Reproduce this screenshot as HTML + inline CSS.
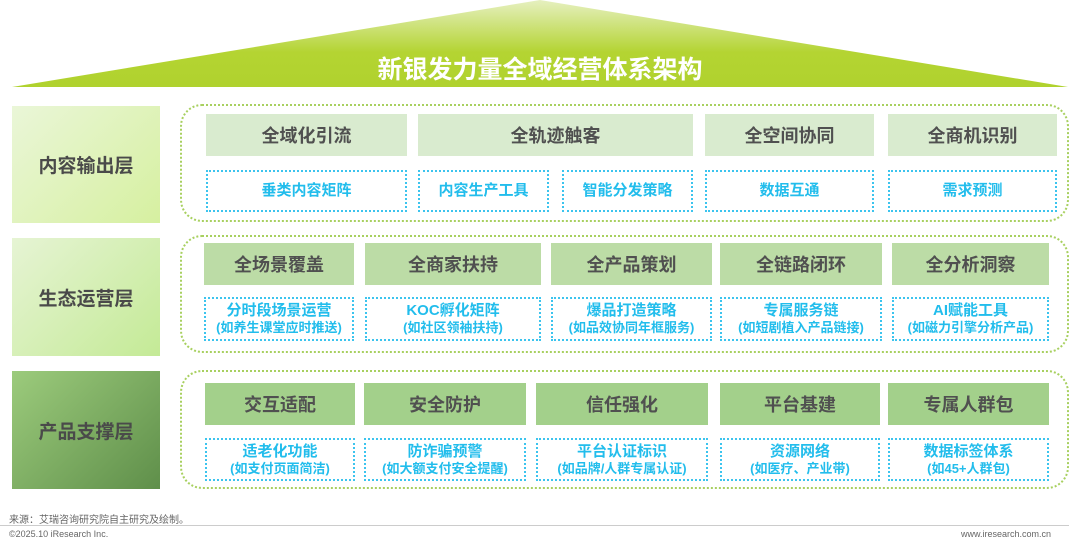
<!DOCTYPE html>
<html><head><meta charset="utf-8"><style>
*{margin:0;padding:0;box-sizing:border-box}
body{width:1080px;height:542px;background:#fff;position:relative;overflow:hidden;font-family:"Liberation Sans","Noto Sans CJK SC",sans-serif}
.a{position:absolute}
.lab{position:absolute;left:12px;width:148px;display:flex;align-items:center;justify-content:center;font-size:19px;font-weight:bold;color:#4a4a4a}
.cont{position:absolute;left:180px;width:889px;border:2px dotted #a8d060;border-radius:22px}
.h{position:absolute;display:flex;align-items:center;justify-content:center;font-size:18px;font-weight:bold;color:#505050}
.r1{background:#d9ebcf}.r2{background:#bcdca6}.r3{background:#a3d08b}
.s{position:absolute;border:2px dotted #3cc4ee;display:flex;flex-direction:column;align-items:center;justify-content:center;color:#22bdec;font-weight:bold;font-size:15px;line-height:18px;background:#fff}
.s small{font-size:13px;line-height:16px}
</style></head><body>
<svg class="a" style="left:0;top:0" width="1080" height="90"><defs><linearGradient id="g" x1="0" y1="0" x2="0" y2="1"><stop offset="0" stop-color="#e6f0c0"/><stop offset="0.6" stop-color="#b4d432"/><stop offset="1" stop-color="#b0d22e"/></linearGradient></defs><polygon points="12,87 540,0 1068,87" fill="url(#g)"/></svg>
<div class="a" style="left:0;width:1080px;top:50px;text-align:center;font-size:25px;font-weight:bold;color:#fff">新银发力量全域经营体系架构</div>

<div class="lab" style="top:106px;height:117px;background:linear-gradient(135deg,#eaf6d8,#d6f0a0)">内容输出层</div>
<div class="lab" style="top:238px;height:118px;background:linear-gradient(135deg,#e6f4d4,#c4ea96)">生态运营层</div>
<div class="lab" style="top:371px;height:118px;background:linear-gradient(135deg,#9ccb7c,#5f8f4a)">产品支撑层</div>

<div class="cont" style="top:104px;height:118px"></div>
<div class="cont" style="top:235px;height:118px"></div>
<div class="cont" style="top:370px;height:119px"></div>

<div class="h r1" style="left:206px;top:114px;width:201px;height:42px">全域化引流</div>
<div class="h r1" style="left:418px;top:114px;width:275px;height:42px">全轨迹触客</div>
<div class="h r1" style="left:705px;top:114px;width:169px;height:42px">全空间协同</div>
<div class="h r1" style="left:888px;top:114px;width:169px;height:42px">全商机识别</div>
<div class="s" style="left:206px;top:170px;width:201px;height:42px">垂类内容矩阵</div>
<div class="s" style="left:418px;top:170px;width:131px;height:42px">内容生产工具</div>
<div class="s" style="left:562px;top:170px;width:131px;height:42px">智能分发策略</div>
<div class="s" style="left:705px;top:170px;width:169px;height:42px">数据互通</div>
<div class="s" style="left:888px;top:170px;width:169px;height:42px">需求预测</div>

<div class="h r2" style="left:204px;top:243px;width:150px;height:42px">全场景覆盖</div>
<div class="h r2" style="left:365px;top:243px;width:176px;height:42px">全商家扶持</div>
<div class="h r2" style="left:551px;top:243px;width:161px;height:42px">全产品策划</div>
<div class="h r2" style="left:720px;top:243px;width:162px;height:42px">全链路闭环</div>
<div class="h r2" style="left:892px;top:243px;width:157px;height:42px">全分析洞察</div>
<div class="s" style="left:204px;top:297px;width:150px;height:44px">分时段场景运营<small>(如养生课堂应时推送)</small></div>
<div class="s" style="left:365px;top:297px;width:176px;height:44px">KOC孵化矩阵<small>(如社区领袖扶持)</small></div>
<div class="s" style="left:551px;top:297px;width:161px;height:44px">爆品打造策略<small>(如品效协同年框服务)</small></div>
<div class="s" style="left:720px;top:297px;width:162px;height:44px">专属服务链<small>(如短剧植入产品链接)</small></div>
<div class="s" style="left:892px;top:297px;width:157px;height:44px">AI赋能工具<small>(如磁力引擎分析产品)</small></div>

<div class="h r3" style="left:205px;top:383px;width:150px;height:42px">交互适配</div>
<div class="h r3" style="left:364px;top:383px;width:162px;height:42px">安全防护</div>
<div class="h r3" style="left:536px;top:383px;width:172px;height:42px">信任强化</div>
<div class="h r3" style="left:720px;top:383px;width:160px;height:42px">平台基建</div>
<div class="h r3" style="left:888px;top:383px;width:161px;height:42px">专属人群包</div>
<div class="s" style="left:205px;top:438px;width:150px;height:43px">适老化功能<small>(如支付页面简洁)</small></div>
<div class="s" style="left:364px;top:438px;width:162px;height:43px">防诈骗预警<small>(如大额支付安全提醒)</small></div>
<div class="s" style="left:536px;top:438px;width:172px;height:43px">平台认证标识<small>(如品牌/人群专属认证)</small></div>
<div class="s" style="left:720px;top:438px;width:160px;height:43px">资源网络<small>(如医疗、产业带)</small></div>
<div class="s" style="left:888px;top:438px;width:161px;height:43px">数据标签体系<small>(如45+人群包)</small></div>

<div class="a" style="left:9px;top:511px;font-size:10px;color:#666">来源：艾瑞咨询研究院自主研究及绘制。</div>
<div class="a" style="left:0;top:525px;width:1069px;height:1px;background:#ccc"></div>
<div class="a" style="left:9px;top:529px;font-size:9px;color:#666">©2025.10 iResearch Inc.</div>
<div class="a" style="left:961px;top:529px;font-size:9px;color:#666">www.iresearch.com.cn</div>
</body></html>
